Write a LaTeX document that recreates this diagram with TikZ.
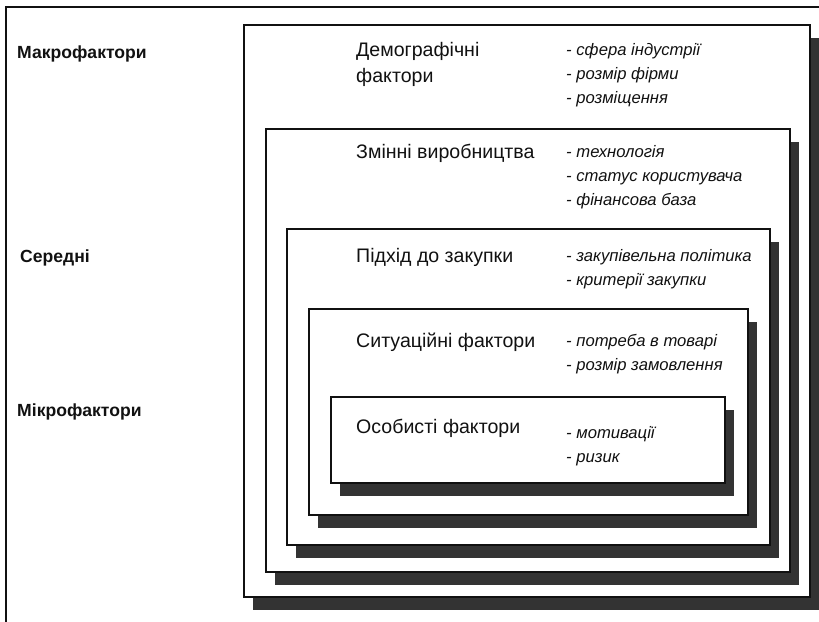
\documentclass[tikz,border=0pt]{standalone}
\usepackage{fontspec}
\setmainfont{Liberation Sans}
\usepackage{tikz}
\definecolor{ink}{HTML}{111111}
\definecolor{dropgray}{HTML}{333333}

\begin{document}
\begin{tikzpicture}[x=0.03cm,y=-0.03cm,
    title/.style={anchor=base west,inner sep=0pt,text=ink,font=\fontsize{16.7}{20}\selectfont},
    item/.style={anchor=base west,inner sep=0pt,text=ink,font=\fontsize{14.2}{18}\selectfont\itshape},
    level/.style={anchor=base west,inner sep=0pt,text=ink,font=\fontsize{15}{18}\selectfont\bfseries},
    layer/.style={fill=white,draw=ink,line width=1.6pt}]
  \def\tx{356}\def\bx{566}
  \useasboundingbox (0,0) rectangle (819,622);
  % frame
  \draw[ink,line width=1.4pt] (6,622) -- (6,7) -- (819,7);
  % levels
  \node[level] (macro) at (17,59) {Макрофактори};
  \node[level] (mid) at (20,262) {Середні};
  \node[level] (micro) at (17,416) {Мікрофактори};
  % demographic
  \fill[dropgray] (253,38) rectangle (819,610);
  \filldraw[layer] (244,25) rectangle (810,597);
  \node[title] (demo1) at (\tx,57) {Демографічні};
  \node[title] (demo2) at (\tx,83) {фактори};
  \node[item] (demoa) at (\bx,56) {- сфера індустрії};
  \node[item] (demob) at (\bx,80) {- розмір фірми};
  \node[item] (democ) at (\bx,104) {- розміщення};
  % production
  \fill[dropgray] (275,142) rectangle (799,585);
  \filldraw[layer] (266,129) rectangle (790,572);
  \node[title] (prod) at (\tx,158) {Змінні виробництва};
  \node[item] (proda) at (\bx,157) {- технологія};
  \node[item] (prodb) at (\bx,181) {- статус користувача};
  \node[item] (prodc) at (\bx,205) {- фінансова база};
  % purchase
  \fill[dropgray] (296,242) rectangle (779,558);
  \filldraw[layer] (287,229) rectangle (770,545);
  \node[title] (buy) at (\tx,262) {Підхід до закупки};
  \node[item] (buya) at (\bx,261) {- закупівельна політика};
  \node[item] (buyb) at (\bx,285) {- критерії закупки};
  % situation
  \fill[dropgray] (318,322) rectangle (757,528);
  \filldraw[layer] (309,309) rectangle (748,515);
  \node[title] (sit) at (\tx,347) {Ситуаційні фактори};
  \node[item] (sita) at (\bx,346) {- потреба в товарі};
  \node[item] (sitb) at (\bx,370) {- розмір замовлення};
  % personal
  \fill[dropgray] (340,410) rectangle (734,496);
  \filldraw[layer] (331,397) rectangle (725,483);
  \node[title] (pers) at (\tx,433) {Особисті фактори};
  \node[item] (persa) at (\bx,438) {- мотивації};
  \node[item] (persb) at (\bx,462) {- ризик};
\end{tikzpicture}
\end{document}
